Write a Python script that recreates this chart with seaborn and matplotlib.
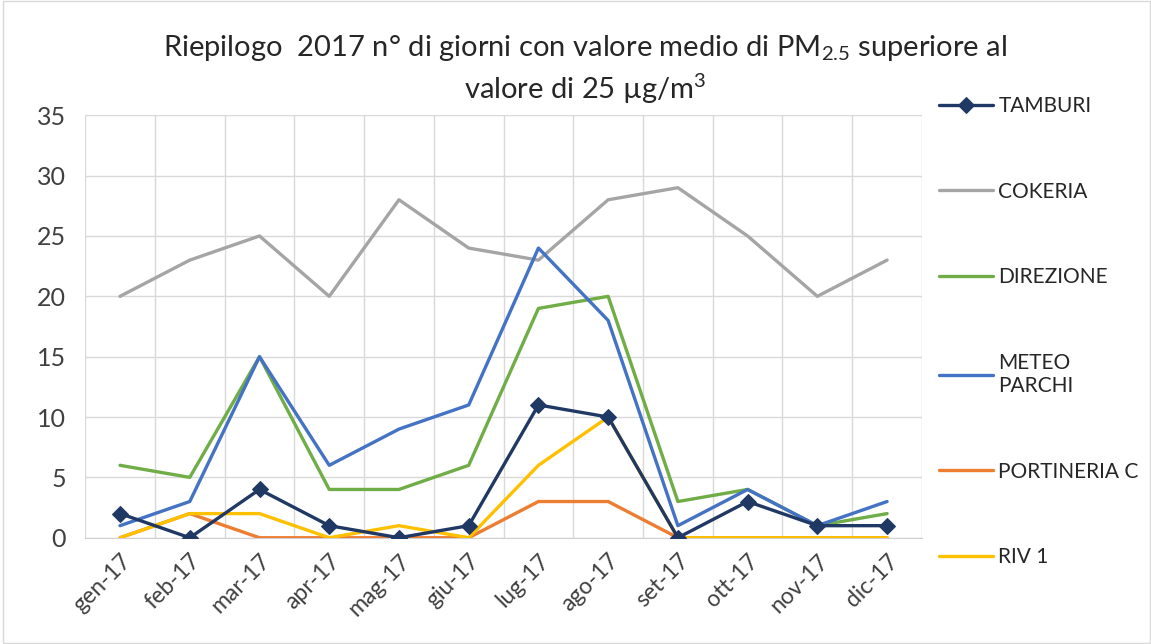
import pandas as pd
import seaborn as sns
import matplotlib.pyplot as plt
from matplotlib.ticker import MultipleLocator, FixedLocator

months = ['gen-17', 'feb-17', 'mar-17', 'apr-17', 'mag-17', 'giu-17',
          'lug-17', 'ago-17', 'set-17', 'ott-17', 'nov-17', 'dic-17']

tamburi = [2, 0, 4, 1, 0, 1, 11, 10, 0, 3, 1, 1]
cokeria = [20, 23, 25, 20, 28, 24, 23, 28, 29, 25, 20, 23]
direzione = [6, 5, 15, 4, 4, 6, 19, 20, 3, 4, 1, 2]
meteo_parchi = [1, 3, 15, 6, 9, 11, 24, 18, 1, 4, 1, 3]
portineria_c = [0, 2, 0, 0, 0, 0, 3, 3, 0, 0, 0, 0]
riv1 = [0, 2, 2, 0, 1, 0, 6, 10, 0, 0, 0, 0]

series = {
    'TAMBURI': tamburi,
    'COKERIA': cokeria,
    'DIREZIONE': direzione,
    'METEO\nPARCHI': meteo_parchi,
    'PORTINERIA C': portineria_c,
    'RIV 1': riv1,
}
colors = {
    'TAMBURI': '#203864',
    'COKERIA': '#A5A5A5',
    'DIREZIONE': '#70AD47',
    'METEO\nPARCHI': '#4472C4',
    'PORTINERIA C': '#ED7D31',
    'RIV 1': '#FFC000',
}

rows = []
for name, vals in series.items():
    for i, v in enumerate(vals):
        rows.append({'station': name, 'month': i, 'days': v})
df = pd.DataFrame(rows)

sns.set_style('white')
plt.rcParams['font.family'] = ['Lato', 'DejaVu Sans']
plt.rcParams['mathtext.fontset'] = 'custom'
plt.rcParams['mathtext.rm'] = 'Lato'
plt.rcParams['mathtext.it'] = 'Lato'

fig = plt.figure(figsize=(11.51, 6.44), dpi=100)
ax = fig.add_axes([0.074, 0.165, 0.727, 0.656])

# draw back to front like the original (TAMBURI on top)
order = ['COKERIA', 'DIREZIONE', 'METEO\nPARCHI', 'PORTINERIA C', 'RIV 1', 'TAMBURI']
for name in order:
    sub = df[df['station'] == name]
    if name == 'TAMBURI':
        sns.lineplot(data=sub, x='month', y='days', ax=ax, color=colors[name],
                     linewidth=2.4, marker='D', markersize=8,
                     markeredgecolor=colors[name], label=name, zorder=5)
    else:
        sns.lineplot(data=sub, x='month', y='days', ax=ax, color=colors[name],
                     linewidth=2.4, label=name, zorder=3)

ax.set_xlim(-0.5, 11.5)
ax.set_ylim(0, 35)
ax.yaxis.set_major_locator(MultipleLocator(5))
ax.set_xticks(range(len(months)))
ax.set_xticklabels(months, rotation=45, ha='right', rotation_mode='anchor',
                   fontsize=16.5, color='#404040')
ax.xaxis.set_minor_locator(FixedLocator([i - 0.5 for i in range(13)]))
ax.tick_params(axis='y', labelsize=18, colors='#404040', length=0, pad=14)
ax.tick_params(axis='x', which='both', length=0, pad=9)
ax.grid(axis='y', which='major', color='#D9D9D9', linewidth=1)
ax.grid(axis='x', which='minor', color='#D9D9D9', linewidth=1)
ax.grid(axis='x', which='major', visible=False)
ax.set_xlabel('')
ax.set_ylabel('')
for side in ['top', 'right', 'left']:
    ax.spines[side].set_visible(False)
ax.spines['bottom'].set_color('#D0D0D0')

handles, labels = ax.get_legend_handles_labels()
legend_order = list(series.keys())
hmap = dict(zip(labels, handles))
ax.legend([hmap[k] for k in legend_order], legend_order,
          loc='upper left', bbox_to_anchor=(0.998, 1.09), frameon=False,
          fontsize=15, labelspacing=3.15, handlelength=2.6, handletextpad=0.25,
          labelcolor='#262626')

fig.text(0.508, 0.925,
         'Riepilogo  2017 n° di giorni con valore medio di PM$_{2.5}$ superiore al',
         ha='center', va='center', fontsize=21, color='#262626')
fig.text(0.508, 0.862, 'valore di 25 µg/m$^3$',
         ha='center', va='center', fontsize=21, color='#262626')

fig.patches.append(plt.Rectangle((0.003, 0.002), 0.996, 0.996, transform=fig.transFigure,
                                 fill=False, edgecolor='#D9D9D9', linewidth=1))

fig.savefig('out.png', dpi=100)
